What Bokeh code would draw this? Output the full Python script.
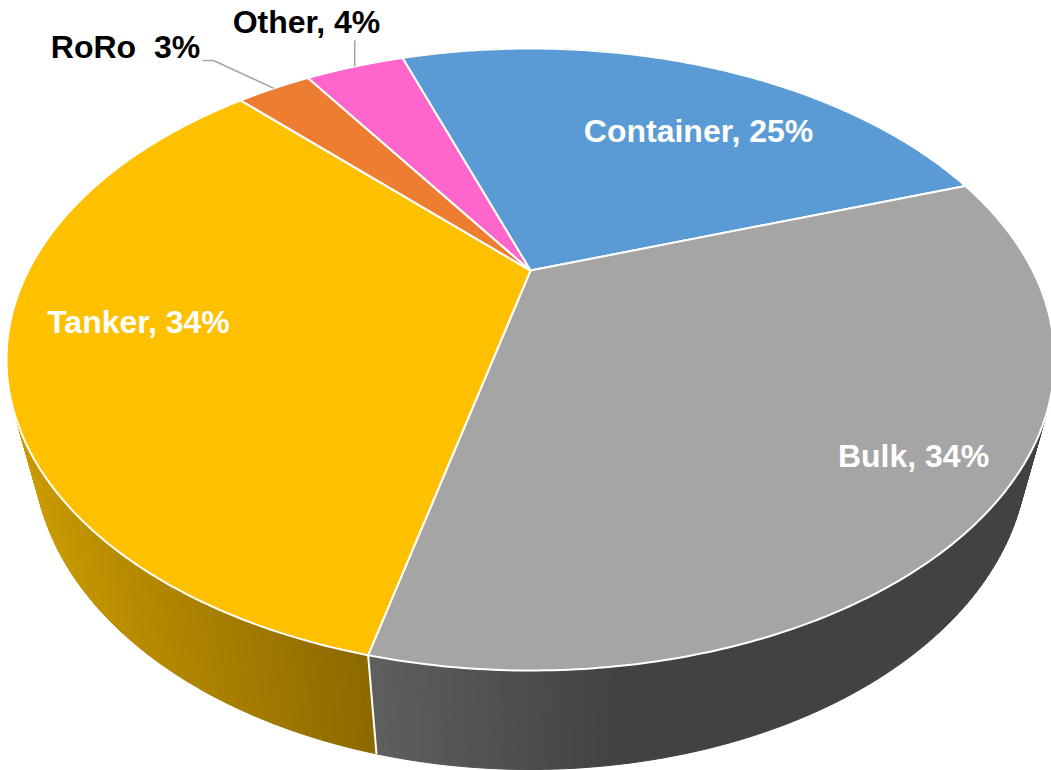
import numpy as np
from bokeh.plotting import figure
from bokeh.models import Range1d
from bokeh.embed import file_html
from bokeh.resources import INLINE
from bokeh.core.properties import value

# ---------------- data ----------------
categories = ["Container", "Bulk", "Tanker", "RoRo", "Other"]
shares = [25, 34, 34, 3, 4]
label_texts = ["Container, 25%", "Bulk, 34%", "Tanker, 34%", "RoRo \u00a03%", "Other, 4%"]

# ---------------- style ----------------
top_colors = ["#5B9BD5", "#A5A5A5", "#FFC000", "#ED7D31", "#FF66CC"]
side_light = ["#4A86BE", "#5F5F5F", "#C99A00", "#C0652A", "#D050A8"]
side_dark = ["#2F5C86", "#424242", "#8D6A00", "#8A4A18", "#903A73"]
side_grad = [(0, 1051), (365, 620), (20, 360), (0, 1051), (0, 1051)]
label_colors = ["white", "white", "white", "black", "black"]
label_x = [698, 913, 138, 125, 306]
label_y = [130, 455, 321, 46, 21]

# geometry in page pixels (plot ranges are set so data units == page pixels)
TOP = dict(cx=530.0, cy=359.0, a=524.0, b=311.0)
BOT = dict(cx=530.0, cy=451.0, a=497.0, b=318.0)
V = -0.286          # perspective offset of the pie centre (normalised ellipse units)
START_DEG = -108.9  # disk angle of first slice start (screen y-down, clockwise positive)
G = 1.0 / np.sqrt(1.0 - V * V)


def project(theta, E):
    x = np.cos(theta)
    y = np.sin(theta)
    Y = G * (y + V)
    T = G * (1.0 + V * y)
    return E["cx"] + E["a"] * x / T, E["cy"] + E["b"] * Y / T


def apex(E):
    return E["cx"], E["cy"] + E["b"] * V


W, H = 1051, 770
p = figure(width=W, height=H, output_backend="svg", toolbar_location=None,
           x_range=Range1d(0, W), y_range=Range1d(H, 0),
           x_axis_type=None, y_axis_type=None, min_border=0,
           background_fill_color="white", border_fill_color="white")
p.outline_line_color = None
p.xgrid.visible = False
p.ygrid.visible = False


def hex2rgb(h):
    h = h.lstrip("#")
    return np.array([int(h[i:i + 2], 16) for i in (0, 2, 4)], dtype=float)


def rgb2hex(c):
    c = np.clip(np.round(c), 0, 255).astype(int)
    return "#%02x%02x%02x" % tuple(c)


total = float(sum(shares))
bounds = np.radians(START_DEG + 360.0 * np.concatenate([[0], np.cumsum(shares)]) / total)

# ---- side strips ----
sx, sy, scol = [], [], []
for i in range(len(shares)):
    t0, t1 = bounds[i], bounds[i + 1]
    n = max(2, int(np.degrees(t1 - t0)))
    th = np.linspace(t0, t1, n + 1)
    tx, ty = project(th, TOP)
    bx, by = project(th, BOT)
    g0, g1 = side_grad[i]
    cl, cd = hex2rgb(side_light[i]), hex2rgb(side_dark[i])
    for k in range(n):
        xs = [tx[k], tx[k + 1], bx[k + 1], bx[k]]
        ys = [ty[k], ty[k + 1], by[k + 1], by[k]]
        xm = 0.5 * (tx[k] + tx[k + 1])
        t = np.clip((xm - g0) / (g1 - g0), 0, 1)
        sx.append(xs)
        sy.append(ys)
        scol.append(rgb2hex(cl + (cd - cl) * t))
p.patches(sx, sy, fill_color=scol, line_color=scol, line_width=1)

# ---- vertical slice edges on the side ----
for b in bounds[:-1]:
    x0, y0 = project(b, TOP)
    x1, y1 = project(b, BOT)
    p.line([x0, x1], [y0, y1], line_color="white", line_width=2)

# ---- top faces ----
ax, ay = apex(TOP)
fx, fy = [], []
for i in range(len(shares)):
    th = np.linspace(bounds[i], bounds[i + 1], 200)
    tx, ty = project(th, TOP)
    fx.append([ax] + list(tx))
    fy.append([ay] + list(ty))
p.patches(fx, fy, fill_color=top_colors, line_color="white", line_width=2, line_join="round")

# ---- leader lines for outside labels ----
mids = 0.5 * (bounds[:-1] + bounds[1:])
rx, ry = project(mids[3], TOP)
p.line([202, 213, rx], [60, 60, ry], line_color="#A6A6A6", line_width=1.5)
ox, oy = project(mids[4], TOP)
p.line([ox, ox], [40, oy], line_color="#A6A6A6", line_width=1.5)

# ---- labels ----
p.text(x=label_x, y=label_y, text=label_texts, text_color=label_colors,
       text_font=value("Liberation Sans"), text_font_style="bold",
       text_font_size="32px", text_align="center", text_baseline="alphabetic")

open("out.html", "w").write(file_html(p, INLINE))
